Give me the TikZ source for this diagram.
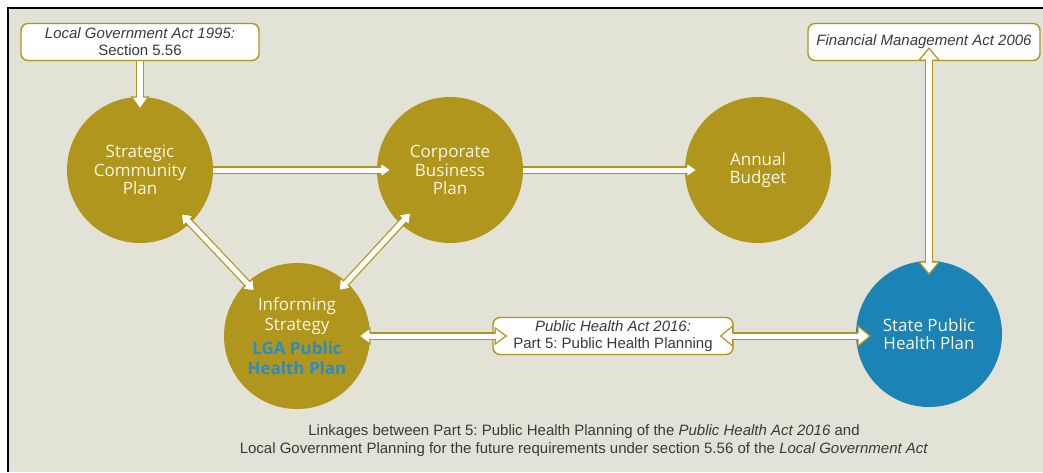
\documentclass[tikz,border=0pt]{standalone}
\usepackage{fontspec}
\setmainfont{Liberation Sans}
\newfontfamily\circfont{Open Sans}
\usetikzlibrary{calc,decorations.markings}
\frenchspacing
\definecolor{gold}{HTML}{B0961C}
\definecolor{bluec}{HTML}{1B83B5}
\definecolor{bg}{HTML}{E2E2D6}
\definecolor{txt}{HTML}{3A3A3A}
\definecolor{cream}{HTML}{FBF6E0}
\definecolor{lgablue}{HTML}{2A8CC4}
\newcommand\tipfwd[2]{%
  \fill[white] (0,0) -- (-#1,#2) -- (-#1,-#2) -- cycle;
  \draw[gold, line width=1.2pt, line join=miter] (-#1,2.8) -- (-#1,#2) -- (0,0) -- (-#1,-#2) -- (-#1,-2.8);}
\newcommand\tipback[2]{%
  \fill[white] (0,0) -- (#1,#2) -- (#1,-#2) -- cycle;
  \draw[gold, line width=1.2pt, line join=miter] (#1,2.8) -- (#1,#2) -- (0,0) -- (#1,-#2) -- (#1,-2.8);}
\tikzset{
  circ/.style={circle, fill=gold, minimum size=146pt, inner sep=0pt, align=center,
    text=cream, font=\circfont\fontsize{17}{18.5}\selectfont},
  actbox/.style={draw=gold, line width=1.4pt, fill=white, rounded corners=7pt,
    minimum width=238pt, minimum height=37pt, inner sep=0pt, align=center,
    text=txt, font=\fontsize{15}{17}\selectfont},
  shaft/.style={preaction={draw=gold, line width=7.5pt, #1},
                preaction={draw=white, line width=5pt, #1}},
  wideshaft/.style={preaction={draw=gold, line width=8.5pt, #1},
                preaction={draw=white, line width=6pt, #1}},
  tipend/.style 2 args={postaction={decorate, decoration={markings,
      mark=at position 1 with {\tipfwd{#1}{#2}}}}},
  tipstart/.style 2 args={postaction={decorate, decoration={markings,
      mark=at position 0 with {\tipback{#1}{#2}}}}},
  caption/.style={align=center, text=txt, font=\fontsize{15}{18}\selectfont},
}
\begin{document}
\begin{tikzpicture}[x=1pt, y=-1pt]
\useasboundingbox (0,0) rectangle (1043,472);
\fill[white] (0,0) rectangle (1043,472);
\fill[bg] (8,8) rectangle (1043,472);
\draw[black, line width=1.8pt] (8,472) -- (8,8) -- (1043,8);

% circles
\node[circ] (scp) at (140,170) {Strategic\\Community\\Plan};
\node[circ] (cbp) at (450,170) {Corporate\\Business\\Plan};
\node[circ] (ab)  at (758,170) {Annual\\Budget};
\node[circ, font=\circfont\fontsize{17}{19.5}\selectfont] (inf) at (297,336)
  {Informing\\Strategy\\[5pt]\textcolor{lgablue}{\bfseries LGA Public}\\\textcolor{lgablue}{\bfseries Health Plan}};
\node[circ, fill=bluec] (spp) at (929,334) {State Public\\Health Plan};

% boxes
\node[actbox] (lga) at (140,42) {\textit{Local Government Act 1995:}\\Section 5.56};
\node[actbox, minimum width=232pt] (fma) at (924,42) {\textit{Financial Management Act 2006}};
\node[actbox, minimum width=240pt] (pha) at (613,336) {\textit{Public Health Act 2016:}\\Part 5: Public Health Planning};

% connectors
\path[wideshaft={shorten >=10pt}, tipend={12}{8.5}] (lga.south) -- ($(scp)+(0,-61)$);
\path[shaft={shorten >=9pt}, tipend={10}{7}] (scp.east) -- ($(cbp.west)+(14,0)$);
\path[shaft={shorten >=9pt}, tipend={10}{7}] (cbp.east) -- ($(ab.west)+(12,0)$);
\path[shaft={shorten >=9pt, shorten <=9pt}, tipend={10}{7.5}, tipstart={10}{7.5}]
  ($(inf)!62pt!(scp)$) -- ($(scp)!60pt!(inf)$);
\path[shaft={shorten >=9pt, shorten <=9pt}, tipend={10}{7.5}, tipstart={10}{7.5}]
  ($(inf)!62pt!(cbp)$) -- ($(cbp)!58pt!(inf)$);
\path[shaft={shorten >=9pt, shorten <=9pt}, tipend={11}{8}, tipstart={11}{8}]
  ($(inf)+(62,0)$) -- ($(pha.west)+(14,0)$);
\path[shaft={shorten >=10pt, shorten <=10pt}, tipend={12}{10}, tipstart={12}{10}]
  ($(pha.east)+(-13,0)$) -- ($(pha.east -| spp)+(-59,0)$);
\path[wideshaft={shorten >=10pt, shorten <=10pt}, tipend={12}{10}, tipstart={12}{10}]
  ($(spp |- fma.south)+(0,-13)$) -- ($(spp)+(0,-60)$);

% caption
\node[caption] (cap) at (584,441) {Linkages between Part 5: Public Health Planning of the \textit{Public Health Act 2016} and\\Local Government Planning for the future requirements under section 5.56 of the \textit{Local Government Act}};
\end{tikzpicture}
\end{document}
